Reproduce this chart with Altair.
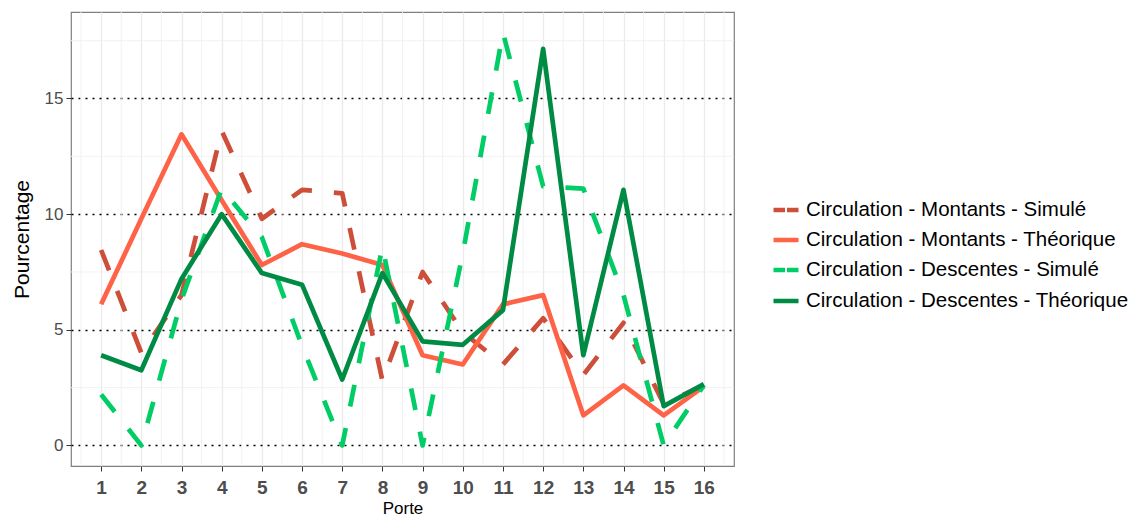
import altair as alt
import pandas as pd

# ---- data ----
porte = list(range(1, 17))

series_names = [
    "Circulation - Montants - Simulé",
    "Circulation - Montants - Théorique",
    "Circulation - Descentes - Simulé",
    "Circulation - Descentes - Théorique",
]

montants_simule = [8.45, 4.0, 6.5, 13.6, 9.8, 11.05, 10.9, 2.8, 7.5, 4.9, 3.5, 5.5, 3.05, 5.3, 1.8, 2.6]
montants_theorique = [6.1, 9.8, 13.45, 10.6, 7.8, 8.7, 8.3, 7.8, 3.9, 3.5, 6.1, 6.5, 1.3, 2.6, 1.3, 2.55]
descentes_simule = [2.2, 0.0, 6.3, 11.1, 9.0, 4.3, 0.0, 8.6, 0.0, 8.3, 17.85, 11.2, 11.1, 6.5, 0.0, 2.6]
descentes_theorique = [3.9, 3.25, 7.2, 10.0, 7.45, 6.95, 2.85, 7.45, 4.5, 4.35, 5.85, 17.15, 3.9, 11.05, 1.7, 2.65]

series_values = [montants_simule, montants_theorique, descentes_simule, descentes_theorique]

x_ticks = porte
y_ticks = [0, 5, 10, 15]
x_minor = [i + 0.5 for i in range(0, 17)]
y_minor = [2.5, 7.5, 12.5, 17.5]

colors = ["#CD4F39", "#FF6347", "#00CD66", "#008B45"]
dashed = [True, False, True, False]

rows = []
for name, vals in zip(series_names, series_values):
    for p, v in zip(porte, vals):
        rows.append({"Porte": p, "Pourcentage": v, "serie": name})
df = pd.DataFrame(rows)

x_scale = alt.Scale(domain=[0.25, 16.75], nice=False, zero=False)
y_scale = alt.Scale(domain=[-0.89, 18.74], nice=False, zero=False)

x_axis = alt.Axis(
    values=x_ticks,
    title="Porte",
    format="d",
    labelFontWeight="bold",
    labelFontSize=19,
    labelColor="#4D4D4D",
    labelPadding=7,
    tickSize=5,
    tickColor="#333333",
    domain=False,
    grid=True,
    gridColor="#EBEBEB",
    gridWidth=1.3,
    titleFontSize=17,
    titleFontWeight="normal",
    titleColor="#000000",
    titlePadding=3,
)
y_axis = alt.Axis(
    values=y_ticks,
    title="Pourcentage",
    labelFontSize=17,
    labelColor="#4D4D4D",
    labelPadding=3,
    tickSize=5,
    tickColor="#333333",
    domain=False,
    grid=True,
    gridColor="#000000",
    gridDash=[2, 5],
    gridWidth=1.4,
    titleFontSize=21,
    titleFontWeight="normal",
    titleColor="#000000",
    titlePadding=12,
)

# minor grid lines
xminor = alt.Chart(pd.DataFrame({"Porte": x_minor})).mark_rule(
    color="#F0F0F0", strokeWidth=0.9
).encode(x=alt.X("Porte:Q", scale=x_scale, axis=x_axis))
yminor = alt.Chart(pd.DataFrame({"Pourcentage": y_minor})).mark_rule(
    color="#F0F0F0", strokeWidth=0.9
).encode(y=alt.Y("Pourcentage:Q", scale=y_scale, axis=y_axis))

row_centers = [198, 228, 258, 289]

line_layers = []
for i, name in enumerate(series_names):
    mk = dict(strokeWidth=4.7, strokeJoin="round", strokeCap="butt")
    if dashed[i]:
        mk["strokeDash"] = [22, 22]
    leg = alt.Legend(
        title=None,
        orient="none",
        legendX=700,
        legendY=row_centers[i] - 10.5,
        padding=0,
        symbolType="stroke",
        symbolSize=625,
        symbolStrokeWidth=4.7,
        symbolDash=[11.5, 2] if dashed[i] else [1, 0],
        labelFontSize=20.5,
        labelColor="#000000",
        labelOffset=5,
        clipHeight=21,
        labelLimit=400,
    )
    layer = (
        alt.Chart(df)
        .transform_filter(alt.datum.serie == name)
        .mark_line(**mk)
        .encode(
            x=alt.X("Porte:Q", scale=x_scale, axis=x_axis),
            y=alt.Y("Pourcentage:Q", scale=y_scale, axis=y_axis),
            color=alt.Color(
                "serie:N",
                scale=alt.Scale(domain=[name], range=[colors[i]]),
                legend=leg,
            ),
        )
    )
    line_layers.append(layer)

chart = (
    alt.layer(xminor, yminor, *line_layers)
    .resolve_scale(color="independent")
    .properties(
        width=663,
        height=454,
        autosize=alt.AutoSizeParams(type="none"),
        padding={"left": 63, "top": 4, "right": 401, "bottom": 54},
    )
    .configure(font="Liberation Sans")
    .configure_view(stroke="#7F7F7F", strokeWidth=1.2)
)

chart.save("out.html", embed_options={"renderer": "svg", "actions": False})
